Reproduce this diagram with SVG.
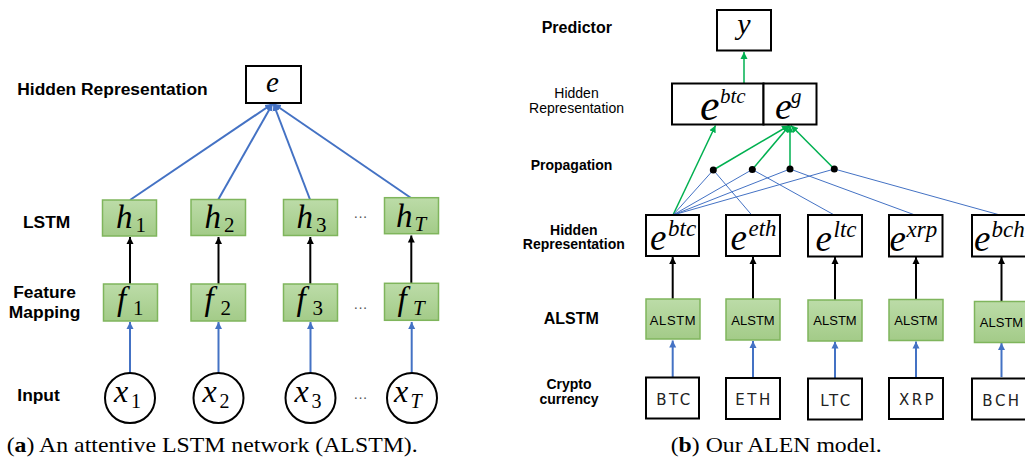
<svg xmlns="http://www.w3.org/2000/svg" width="1025" height="461" viewBox="0 0 1025 461">
<defs>
<linearGradient id="gr" x1="0" y1="0" x2="0" y2="1">
<stop offset="0" stop-color="#bcdca8"/>
<stop offset="1" stop-color="#a3cb88"/>
</linearGradient>
<marker id="ak" markerUnits="userSpaceOnUse" markerWidth="10" markerHeight="10" refX="7" refY="4" orient="auto">
<path d="M0,0.5 L7,4 L0,7.5 Z" fill="#000"/>
</marker>
<marker id="ab" markerUnits="userSpaceOnUse" markerWidth="10" markerHeight="10" refX="7" refY="4" orient="auto">
<path d="M0,0.5 L7,4 L0,7.5 Z" fill="#4472C4"/>
</marker>
<marker id="ag" markerUnits="userSpaceOnUse" markerWidth="10" markerHeight="10" refX="7" refY="4" orient="auto">
<path d="M0,0.5 L7,4 L0,7.5 Z" fill="#00B050"/>
</marker>
</defs>
<style>
.lbl{font-family:"Liberation Sans",Arial,sans-serif;font-weight:bold;fill:#000}
.lbn{font-family:"Liberation Sans",Arial,sans-serif;fill:#000}
.box{fill:#fff;stroke:#000;stroke-width:2}
.gbox{fill:url(#gr);stroke:#7fb55c;stroke-width:1.5}
.m{font-family:"Liberation Serif","Times New Roman",serif;font-style:italic;fill:#000}
.d{font-family:"Liberation Serif","Times New Roman",serif;font-style:normal;fill:#000}
.cap{font-family:"Liberation Serif","Times New Roman",serif;fill:#000}
.dots{font-family:"Liberation Sans",Arial,sans-serif;fill:#555;font-size:14px}
.ck{stroke:#000;stroke-width:2;fill:none}
.cb{stroke:#4472C4;stroke-width:2;fill:none}
.cbt{stroke:#4472C4;stroke-width:1;fill:none}
.cg{stroke:#00B050;stroke-width:1.5;fill:none}
.cur{font-family:"DejaVu Sans","Liberation Sans",sans-serif;fill:#222;font-size:15px;letter-spacing:2.5px}
.al{font-family:"Liberation Sans",Arial,sans-serif;fill:#000;font-size:13px}
</style>

<!-- Left panel labels -->
<g id="labels-a">
<text class="lbl" x="17.3" y="95" font-size="17.4">Hidden Representation</text>
<text class="lbl" x="23" y="228" font-size="17.4">LSTM</text>
<text class="lbl" x="44.6" y="298" font-size="17.4" text-anchor="middle">Feature</text>
<text class="lbl" x="44.6" y="318" font-size="17.4" text-anchor="middle">Mapping</text>
<text class="lbl" x="17.3" y="400.5" font-size="17.4">Input</text>
</g>

<!-- Left connectors -->
<g id="connectors-a">
<line class="cb" x1="130" y1="200" x2="272" y2="104" marker-end="url(#ab)"/>
<line class="cb" x1="218.3" y1="199.5" x2="272.5" y2="104" marker-end="url(#ab)"/>
<line class="cb" x1="310" y1="199.5" x2="273.5" y2="104" marker-end="url(#ab)"/>
<line class="cb" x1="410.7" y1="197.7" x2="274" y2="104" marker-end="url(#ab)"/>
<line class="ck" x1="130" y1="284" x2="130" y2="237" marker-end="url(#ak)"/>
<line class="ck" x1="218.5" y1="284" x2="218.5" y2="237" marker-end="url(#ak)"/>
<line class="ck" x1="310.3" y1="284" x2="310.3" y2="237" marker-end="url(#ak)"/>
<line class="ck" x1="411.3" y1="283.3" x2="411.3" y2="235.5" marker-end="url(#ak)"/>
<line class="cb" x1="130" y1="373" x2="130" y2="322" marker-end="url(#ab)"/>
<line class="cb" x1="218.5" y1="373" x2="218.5" y2="322" marker-end="url(#ab)"/>
<line class="cb" x1="310.5" y1="373" x2="310.5" y2="322" marker-end="url(#ab)"/>
<line class="cb" x1="411.7" y1="373" x2="411.7" y2="322" marker-end="url(#ab)"/>
</g>

<g id="node-e">
<rect class="box" x="246" y="66" width="55" height="37"/>
<text class="m" x="272.5" y="92" font-size="29" text-anchor="middle">e</text>
</g>

<g id="node-h1">
<rect class="gbox" x="102.5" y="200" width="54" height="36"/>
<text class="m" x="116" y="228" font-size="33">h</text>
<text class="d" x="135.5" y="232" font-size="21">1</text>
</g>
<g id="node-h2">
<rect class="gbox" x="191" y="199.5" width="54.5" height="36"/>
<text class="m" x="204.5" y="228" font-size="33">h</text>
<text class="d" x="224" y="232" font-size="21">2</text>
</g>
<g id="node-h3">
<rect class="gbox" x="283.5" y="199.5" width="54" height="36"/>
<text class="m" x="296.5" y="228" font-size="33">h</text>
<text class="d" x="316" y="232" font-size="21">3</text>
</g>
<g id="node-hT">
<rect class="gbox" x="384.5" y="197.7" width="54" height="36"/>
<text class="m" x="396" y="226.5" font-size="33">h</text>
<text class="m" x="414.5" y="231" font-size="21">T</text>
</g>
<text class="dots" x="360.5" y="221" text-anchor="middle">···</text>

<g id="node-f1">
<rect class="gbox" x="103.5" y="284" width="54" height="37"/>
<text class="m" x="117" y="310" font-size="33">f</text>
<text class="d" x="133" y="315" font-size="21">1</text>
</g>
<g id="node-f2">
<rect class="gbox" x="191" y="284" width="54.5" height="37"/>
<text class="m" x="204.5" y="310" font-size="33">f</text>
<text class="d" x="220.5" y="315" font-size="21">2</text>
</g>
<g id="node-f3">
<rect class="gbox" x="283.5" y="284" width="54" height="37"/>
<text class="m" x="296.5" y="310" font-size="33">f</text>
<text class="d" x="312.5" y="315" font-size="21">3</text>
</g>
<g id="node-fT">
<rect class="gbox" x="384.5" y="283.3" width="54" height="37"/>
<text class="m" x="397.5" y="309.5" font-size="33">f</text>
<text class="m" x="413" y="314.5" font-size="21">T</text>
</g>
<text class="dots" x="360.5" y="312" text-anchor="middle">···</text>

<g id="node-x1">
<circle cx="130" cy="398" r="25" fill="#fff" stroke="#000" stroke-width="2"/>
<text class="m" x="114" y="402" font-size="32">x</text>
<text class="d" x="131" y="408" font-size="20">1</text>
</g>
<g id="node-x2">
<circle cx="218.5" cy="398" r="25" fill="#fff" stroke="#000" stroke-width="2"/>
<text class="m" x="202.5" y="402" font-size="32">x</text>
<text class="d" x="219.5" y="408" font-size="20">2</text>
</g>
<g id="node-x3">
<circle cx="310.5" cy="398" r="25" fill="#fff" stroke="#000" stroke-width="2"/>
<text class="m" x="294.5" y="402" font-size="32">x</text>
<text class="d" x="311.5" y="408" font-size="20">3</text>
</g>
<g id="node-xT">
<circle cx="412" cy="398" r="25" fill="#fff" stroke="#000" stroke-width="2"/>
<text class="m" x="394" y="402" font-size="32">x</text>
<text class="m" x="410.5" y="408" font-size="20">T</text>
</g>
<text class="dots" x="360.5" y="402" text-anchor="middle">···</text>

<text class="cap" x="6.7" y="452" font-size="21" textLength="411" lengthAdjust="spacingAndGlyphs">(<tspan font-weight="bold">a</tspan>) An attentive LSTM network (ALSTM).</text>

<!-- Right panel labels -->
<g id="labels-b">
<text class="lbl" x="541.7" y="33" font-size="16">Predictor</text>
<text class="lbn" x="576.5" y="98" font-size="14" text-anchor="middle">Hidden</text>
<text class="lbn" x="576.5" y="113" font-size="14" text-anchor="middle">Representation</text>
<text class="lbl" x="530.7" y="169.5" font-size="14">Propagation</text>
<text class="lbl" x="573.8" y="235" font-size="14" text-anchor="middle">Hidden</text>
<text class="lbl" x="573.8" y="249" font-size="14" text-anchor="middle">Representation</text>
<text class="lbl" x="571.3" y="324" font-size="16" text-anchor="middle">ALSTM</text>
<text class="lbl" x="569" y="389" font-size="14" text-anchor="middle">Crypto</text>
<text class="lbl" x="569" y="403.5" font-size="14" text-anchor="middle">currency</text>
</g>

<!-- Right connectors -->
<g id="connectors-b">
<line class="cg" x1="744" y1="83" x2="744" y2="52" stroke-width="2" marker-end="url(#ag)"/>
<line class="cg" x1="673" y1="215" x2="715.5" y2="125.5" marker-end="url(#ag)"/>
<line class="cg" x1="713.3" y1="170" x2="789" y2="125.5" marker-end="url(#ag)"/>
<line class="cg" x1="752.3" y1="169.5" x2="789.5" y2="125.5" marker-end="url(#ag)"/>
<line class="cg" x1="790" y1="169" x2="790" y2="125.5" stroke-width="2" marker-end="url(#ag)"/>
<line class="cg" x1="834.3" y1="169" x2="791" y2="125.5" marker-end="url(#ag)"/>
<line class="cbt" x1="673" y1="215" x2="713.3" y2="170"/>
<line class="cbt" x1="673" y1="215" x2="752.3" y2="169.5"/>
<line class="cbt" x1="673" y1="215" x2="790" y2="169"/>
<line class="cbt" x1="673" y1="215" x2="834.3" y2="169"/>
<line class="cbt" x1="713.3" y1="170" x2="751.7" y2="215"/>
<line class="cbt" x1="752.3" y1="169.5" x2="834.3" y2="215"/>
<line class="cbt" x1="790" y1="169" x2="915" y2="215"/>
<line class="cbt" x1="834.3" y1="169" x2="1000" y2="215"/>
<circle cx="713.3" cy="170" r="3.5" fill="#000"/>
<circle cx="752.3" cy="169.5" r="3.5" fill="#000"/>
<circle cx="790" cy="169" r="3.5" fill="#000"/>
<circle cx="834.3" cy="169" r="3.5" fill="#000"/>
<line class="ck" x1="672.7" y1="299" x2="672.7" y2="257" marker-end="url(#ak)"/>
<line class="ck" x1="753" y1="299" x2="753" y2="257" marker-end="url(#ak)"/>
<line class="ck" x1="835" y1="300" x2="835" y2="257" marker-end="url(#ak)"/>
<line class="ck" x1="916" y1="299" x2="916" y2="257" marker-end="url(#ak)"/>
<line class="ck" x1="1001.5" y1="301.5" x2="1001.5" y2="257" marker-end="url(#ak)"/>
<line class="cb" x1="672.7" y1="377" x2="672.7" y2="340.5" marker-end="url(#ab)"/>
<line class="cb" x1="753" y1="377" x2="753" y2="341" marker-end="url(#ab)"/>
<line class="cb" x1="835" y1="378" x2="835" y2="341.5" marker-end="url(#ab)"/>
<line class="cb" x1="916" y1="377" x2="916" y2="341.5" marker-end="url(#ab)"/>
<line class="cb" x1="1001.5" y1="377" x2="1001.5" y2="343" marker-end="url(#ab)"/>
</g>

<g id="node-y">
<rect class="box" x="717" y="10" width="54" height="40.5"/>
<text class="m" x="744" y="34" font-size="30" text-anchor="middle">y</text>
</g>
<g id="node-ebtc-top">
<rect class="box" x="672" y="83.5" width="91.5" height="41"/>
<text class="m" x="700" y="120" font-size="44">e<tspan x="720" y="103" font-size="21">btc</tspan></text>
</g>
<g id="node-eg-top">
<rect class="box" x="763.5" y="83.5" width="53" height="41"/>
<text class="m" x="775" y="119" font-size="38">e<tspan x="791" y="103" font-size="21">g</tspan></text>
</g>

<g id="node-ebtc">
<rect class="box" x="646" y="215" width="53" height="41"/>
<text class="m" x="650" y="250" font-size="37">e<tspan x="668" y="236" font-size="23">btc</tspan></text>
</g>
<g id="node-eeth">
<rect class="box" x="726" y="215" width="54" height="41"/>
<text class="m" x="730.5" y="250" font-size="37">e<tspan x="748.5" y="236" font-size="23">eth</tspan></text>
</g>
<g id="node-eltc">
<rect class="box" x="808" y="215" width="54" height="41.5"/>
<text class="m" x="815.5" y="250.5" font-size="37">e<tspan x="833.5" y="236.5" font-size="23">ltc</tspan></text>
</g>
<g id="node-exrp">
<rect class="box" x="889" y="215" width="53.5" height="41.5"/>
<text class="m" x="889.5" y="250.5" font-size="37">e<tspan x="906.5" y="236.5" font-size="23">xrp</tspan></text>
</g>
<g id="node-ebch">
<rect class="box" x="972" y="215" width="56" height="41.5"/>
<text class="m" x="974" y="250.5" font-size="37">e<tspan x="991.5" y="236.5" font-size="23">bch</tspan></text>
</g>

<g id="node-alstm-btc">
<rect class="gbox" x="646" y="299" width="54" height="40"/>
<text class="al" x="673" y="324.5" text-anchor="middle" letter-spacing="0.6">ALSTM</text>
</g>
<g id="node-alstm-eth">
<rect class="gbox" x="726" y="299" width="54" height="41"/>
<text class="al" x="753" y="324.5" text-anchor="middle">ALSTM</text>
</g>
<g id="node-alstm-ltc">
<rect class="gbox" x="808" y="300" width="54" height="41"/>
<text class="al" x="835" y="325" text-anchor="middle">ALSTM</text>
</g>
<g id="node-alstm-xrp">
<rect class="gbox" x="889" y="299.5" width="54" height="41"/>
<text class="al" x="916" y="324.5" text-anchor="middle">ALSTM</text>
</g>
<g id="node-alstm-bch">
<rect class="gbox" x="974.5" y="301.5" width="56" height="41"/>
<text class="al" x="1001.5" y="326.5" text-anchor="middle">ALSTM</text>
</g>

<g id="node-btc">
<rect class="box" x="646" y="377.5" width="53" height="41"/>
<text class="cur" x="674.5" y="404.5" text-anchor="middle">BTC</text>
</g>
<g id="node-eth">
<rect class="box" x="726" y="378" width="54" height="41"/>
<text class="cur" x="754" y="405" text-anchor="middle">ETH</text>
</g>
<g id="node-ltc">
<rect class="box" x="808" y="378.5" width="54" height="41"/>
<text class="cur" x="836.5" y="405.5" text-anchor="middle">LTC</text>
</g>
<g id="node-xrp">
<rect class="box" x="889" y="378" width="54" height="41"/>
<text class="cur" x="917.5" y="405" text-anchor="middle">XRP</text>
</g>
<g id="node-bch">
<rect class="box" x="972" y="378.5" width="56" height="41"/>
<text class="cur" x="1002" y="405.5" text-anchor="middle">BCH</text>
</g>

<text class="cap" x="670.7" y="452" font-size="21" textLength="211" lengthAdjust="spacingAndGlyphs">(<tspan font-weight="bold">b</tspan>) Our ALEN model.</text>
</svg>
